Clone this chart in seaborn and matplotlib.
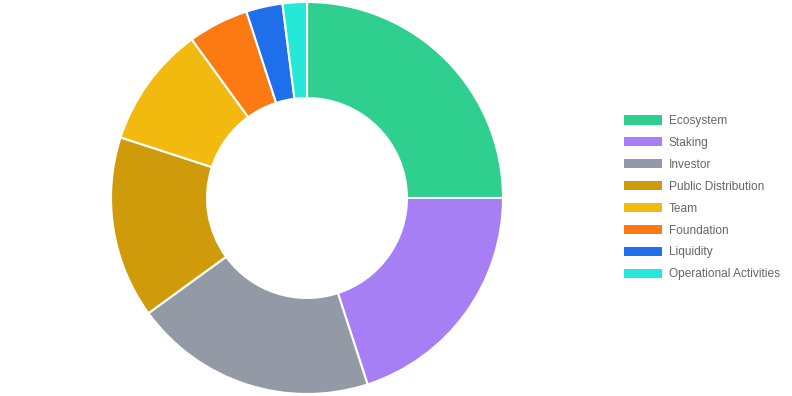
import matplotlib
matplotlib.use("Agg")
import matplotlib.pyplot as plt
from matplotlib.patches import Patch
import seaborn as sns

categories = ["Ecosystem", "Staking", "Investor", "Public Distribution", "Team",
              "Foundation", "Liquidity", "Operational Activities"]
values = [25, 20, 20, 15, 10, 5, 3, 2]
colors = ["#2ecf8f", "#a67ff5", "#939aa5", "#d09b0a", "#f2b90f", "#fb7a12", "#1f6feb", "#25e8d8"]

sns.set_theme(style="white")
plt.rcParams['font.family'] = ['Liberation Sans', 'DejaVu Sans']

W, H = 792, 396
fig = plt.figure(figsize=(W / 100, H / 100), dpi=100)
cx, cy, r = 307, 198, 196
ax = fig.add_axes([(cx - r) / W, (H - cy - r) / H, 2 * r / W, 2 * r / H])
ax.pie(values, colors=sns.color_palette(colors), startangle=90, counterclock=False,
       radius=1, wedgeprops=dict(width=0.49, edgecolor="white", linewidth=1.5))
ax.set_xlim(-1, 1)
ax.set_ylim(-1, 1)
ax.set_aspect("equal")
ax.axis("off")

fs = 8.6
handles = [Patch(facecolor=c, edgecolor="none") for c in colors]
leg = fig.legend(handles, categories, loc="upper left",
                 bbox_to_anchor=(624 / W, 1 - 115 / H), frameon=False,
                 fontsize=fs, handlelength=3.18, handleheight=0.84,
                 handletextpad=0.58, labelspacing=0.83, borderpad=0, borderaxespad=0)
for t in leg.get_texts():
    t.set_color("#666666")

fig.savefig("out.png", dpi=100, facecolor="white")
